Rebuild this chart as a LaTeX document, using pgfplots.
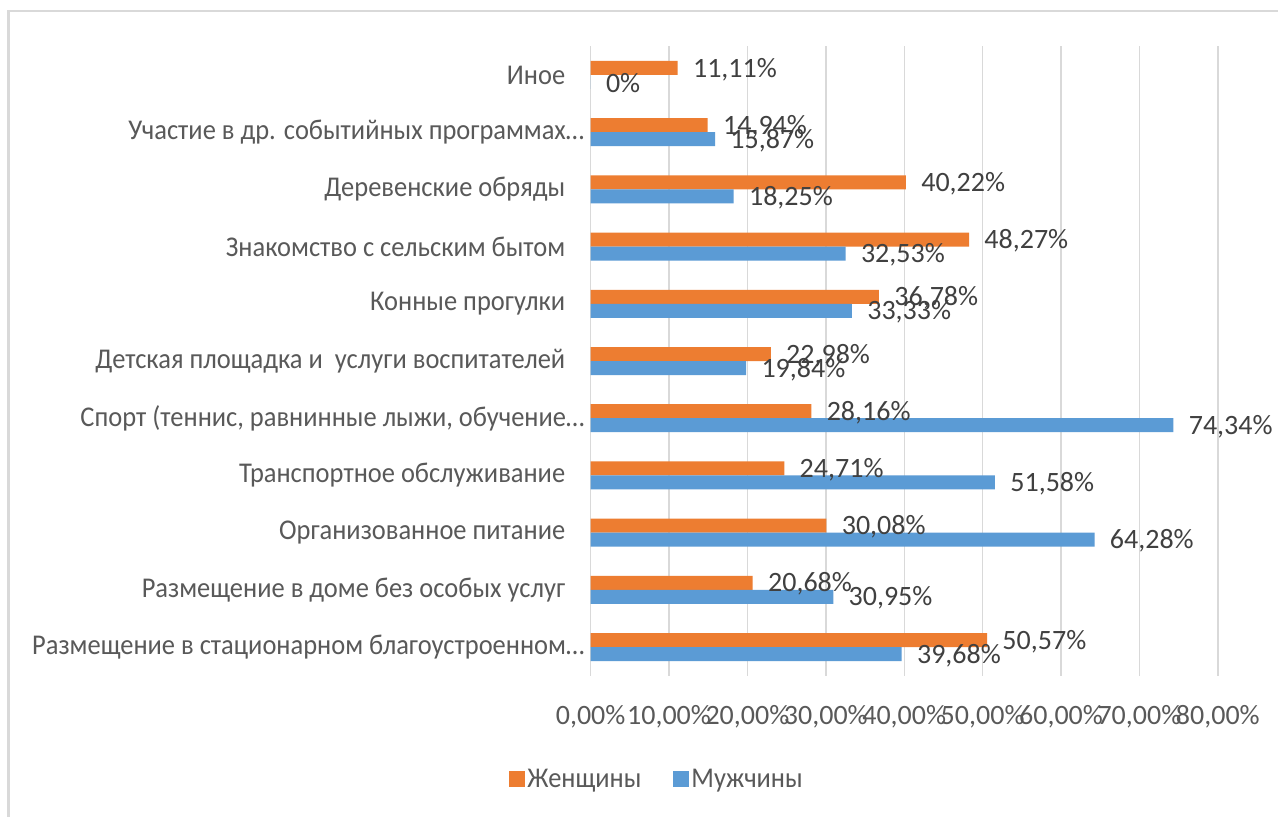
\documentclass[border=0pt]{standalone}
\usepackage{fontspec}
\setmainfont{Carlito}
\newfontfamily\catfont[FakeStretch=0.925]{Carlito}
\usepackage{pgfplots}
\usepackage{pgfplotstable}
\pgfplotsset{compat=1.18}
\definecolor{wcol}{HTML}{ED7D31}
\definecolor{mcol}{HTML}{5B9BD5}
\definecolor{txt}{HTML}{595959}
\definecolor{lab}{HTML}{404040}
\definecolor{grd}{HTML}{D9D9D9}
\pgfplotstableread[col sep=semicolon]{
y;w;m;wl;ml
0;50.57;39.68;50,57\%;39,68\%
1;20.68;30.95;20,68\%;30,95\%
2;30.08;64.28;30,08\%;64,28\%
3;24.71;51.58;24,71\%;51,58\%
4;28.16;74.34;28,16\%;74,34\%
5;22.98;19.84;22,98\%;19,84\%
6;36.78;33.33;36,78\%;33,33\%
7;48.27;32.53;48,27\%;32,53\%
8;40.22;18.25;40,22\%;18,25\%
9;14.94;15.87;14,94\%;15,87\%
10;11.11;0;11,11\%;0\%
}\data
\begin{document}
\begin{tikzpicture}
\useasboundingbox (0,0) rectangle (639pt,408pt);
\fill[white] (0,0) rectangle (639pt,408pt);
\draw[grd, line width=1.2pt] (4.2pt,-20pt) -- (4.2pt,402.5pt) -- (660pt,402.5pt);
\begin{axis}[
  at={(295.3pt,70.2pt)}, anchor=south west,
  scale only axis, width=313.6pt, height=314.6pt,
  xbar, bar width=7pt,
  xmin=0, xmax=80, ymin=-0.5, ymax=10.5,
  xtick={0,10,20,30,40,50,60,70,80},
  xticklabels={{0,00\%},{10,00\%},{20,00\%},{30,00\%},{40,00\%},{50,00\%},{60,00\%},{70,00\%},{80,00\%}},
  ytick={0,1,2,3,4,5,6,7,8,9,10},
  yticklabels={
    {Размещение в стационарном благоустроенном…},
    {Размещение в доме без особых услуг\kern9.5pt},
    {Организованное питание\kern9.5pt},
    {Транспортное обслуживание\kern9.5pt},
    {Спорт (теннис, равнинные лыжи, обучение…},
    {Детская площадка и \ услуги воспитателей\kern9.5pt},
    {Конные прогулки\kern9.5pt},
    {Знакомство с сельским бытом\kern9.5pt},
    {Деревенские обряды\kern9.5pt},
    {Участие в др. событийных программах…},
    {Иное\kern9.5pt}},
  major tick length=0pt,
  axis line style={draw=none},
  xmajorgrids, grid style={grd, line width=0.7pt},
  tick label style={font=\fontsize{14}{16}\selectfont, text=txt},
  yticklabel style={font=\catfont\fontsize{14.3}{16}\selectfont, anchor=east, inner sep=0pt, xshift=-3pt},
  xticklabel style={anchor=base, inner sep=0pt, yshift=-24.2pt},
  point meta=explicit symbolic,
  nodes near coords,
  nodes near coords style={font=\fontsize{14}{16}\selectfont, text=lab, anchor=west, inner sep=0pt, xshift=7.5pt, yshift=-0.7pt},
  legend columns=2,
  legend style={draw=none, fill=none, at={(0.106,-0.165)}, anchor=center,
    font=\catfont\fontsize{14.3}{16}\selectfont, text=txt,
    /tikz/every even column/.append style={column sep=15pt},
    nodes={inner sep=1pt}},
  legend image code/.code={\fill[#1,draw=none] (0pt,-4pt) rectangle (8pt,4pt);},
  clip=false,
]
\addplot[fill=wcol, draw=none, bar shift=3.5pt, legend image code/.code={\fill[wcol] (-1pt,-4pt) rectangle (7pt,4pt);}] table[x=w, y=y, meta=wl] {\data};
\addplot[fill=mcol, draw=none, bar shift=-3.5pt, legend image code/.code={\fill[mcol] (-1pt,-4pt) rectangle (7pt,4pt);}] table[x=m, y=y, meta=ml] {\data};
\legend{Женщины, Мужчины}
\end{axis}
\end{tikzpicture}
\end{document}
